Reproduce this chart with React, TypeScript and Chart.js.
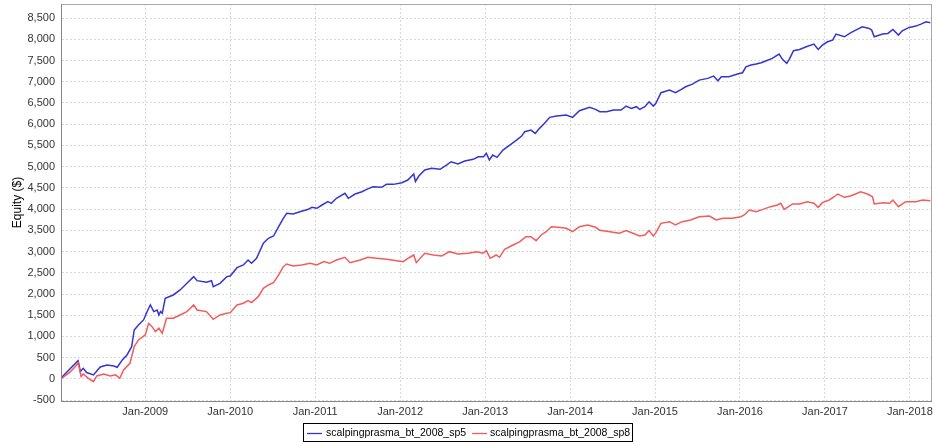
import { useEffect, useRef } from "react";
import { Chart, registerables } from "chart.js";

Chart.register(...registerables);

const seriesNames = ["scalpingprasma_bt_2008_sp5", "scalpingprasma_bt_2008_sp8"];

const sp5Years = [2008.02, 2008.10, 2008.16, 2008.197, 2008.21, 2008.236, 2008.27, 2008.31, 2008.39, 2008.47, 2008.55, 2008.63, 2008.67, 2008.73, 2008.785, 2008.84, 2008.87, 2008.92, 2008.98, 2009.03, 2009.06, 2009.10, 2009.14, 2009.16, 2009.18, 2009.20, 2009.235, 2009.33, 2009.41, 2009.49, 2009.57, 2009.61, 2009.72, 2009.78, 2009.80, 2009.88, 2009.96, 2010.0, 2010.08, 2010.155, 2010.21, 2010.25, 2010.31, 2010.39, 2010.45, 2010.51, 2010.57, 2010.625, 2010.665, 2010.74, 2010.82, 2010.92, 2010.96, 2011.02, 2011.08, 2011.15, 2011.19, 2011.25, 2011.35, 2011.39, 2011.47, 2011.55, 2011.605, 2011.68, 2011.78, 2011.84, 2011.92, 2012.02, 2012.09, 2012.16, 2012.18, 2012.22, 2012.29, 2012.37, 2012.47, 2012.545, 2012.60, 2012.68, 2012.76, 2012.86, 2012.92, 2012.98, 2013.015, 2013.05, 2013.09, 2013.14, 2013.21, 2013.29, 2013.37, 2013.43, 2013.465, 2013.54, 2013.59, 2013.64, 2013.70, 2013.76, 2013.84, 2013.955, 2014.03, 2014.11, 2014.23, 2014.30, 2014.35, 2014.43, 2014.51, 2014.60, 2014.66, 2014.72, 2014.78, 2014.82, 2014.88, 2014.93, 2014.98, 2015.01, 2015.07, 2015.17, 2015.24, 2015.31, 2015.36, 2015.44, 2015.52, 2015.62, 2015.69, 2015.74, 2015.78, 2015.87, 2015.97, 2016.03, 2016.07, 2016.13, 2016.19, 2016.25, 2016.31, 2016.38, 2016.46, 2016.50, 2016.55, 2016.58, 2016.63, 2016.70, 2016.78, 2016.87, 2016.92, 2016.97, 2017.03, 2017.09, 2017.13, 2017.23, 2017.30, 2017.38, 2017.44, 2017.52, 2017.55, 2017.58, 2017.68, 2017.74, 2017.80, 2017.865, 2017.91, 2017.99, 2018.07, 2018.13, 2018.19, 2018.24];
const sp5Equity = [40, 212, 330, 407, 430, 172, 250, 150, 95, 282, 330, 306, 275, 447, 565, 760, 1153, 1271, 1389, 1624, 1742, 1585, 1624, 1506, 1585, 1546, 1900, 1977, 2095, 2252, 2409, 2314, 2275, 2314, 2173, 2252, 2409, 2424, 2620, 2684, 2801, 2723, 2841, 3194, 3312, 3366, 3585, 3783, 3900, 3884, 3939, 3994, 4041, 4018, 4096, 4174, 4136, 4254, 4371, 4254, 4355, 4409, 4465, 4527, 4512, 4582, 4582, 4621, 4684, 4826, 4650, 4779, 4920, 4960, 4936, 5037, 5115, 5061, 5132, 5171, 5233, 5233, 5312, 5155, 5273, 5218, 5390, 5508, 5626, 5720, 5822, 5861, 5783, 5901, 6019, 6160, 6191, 6215, 6160, 6316, 6395, 6348, 6293, 6293, 6332, 6332, 6426, 6372, 6411, 6348, 6411, 6528, 6426, 6490, 6740, 6803, 6740, 6819, 6881, 6944, 7038, 7078, 7132, 7022, 7116, 7116, 7180, 7211, 7352, 7391, 7415, 7446, 7493, 7549, 7650, 7526, 7432, 7526, 7729, 7760, 7823, 7886, 7760, 7862, 7940, 7980, 8121, 8058, 8152, 8232, 8293, 8254, 8215, 8058, 8121, 8137, 8232, 8098, 8199, 8278, 8310, 8357, 8411, 8387];

const sp8Years = [2008.02, 2008.12, 2008.18, 2008.21, 2008.245, 2008.27, 2008.33, 2008.39, 2008.43, 2008.51, 2008.59, 2008.65, 2008.70, 2008.745, 2008.82, 2008.87, 2008.92, 2009.0, 2009.04, 2009.08, 2009.12, 2009.16, 2009.20, 2009.25, 2009.33, 2009.41, 2009.49, 2009.57, 2009.61, 2009.72, 2009.80, 2009.88, 2009.96, 2010.0, 2010.08, 2010.155, 2010.21, 2010.25, 2010.33, 2010.39, 2010.45, 2010.51, 2010.57, 2010.625, 2010.665, 2010.74, 2010.84, 2010.94, 2011.02, 2011.10, 2011.17, 2011.25, 2011.35, 2011.41, 2011.53, 2011.62, 2011.72, 2011.84, 2011.96, 2012.035, 2012.11, 2012.16, 2012.19, 2012.29, 2012.39, 2012.49, 2012.58, 2012.68, 2012.80, 2012.90, 2012.975, 2013.015, 2013.06, 2013.13, 2013.17, 2013.23, 2013.33, 2013.41, 2013.48, 2013.54, 2013.60, 2013.66, 2013.72, 2013.78, 2013.86, 2013.955, 2014.03, 2014.11, 2014.21, 2014.30, 2014.35, 2014.47, 2014.58, 2014.66, 2014.74, 2014.82, 2014.88, 2014.93, 2014.98, 2015.01, 2015.07, 2015.17, 2015.24, 2015.32, 2015.42, 2015.52, 2015.64, 2015.72, 2015.80, 2015.91, 2016.01, 2016.05, 2016.11, 2016.19, 2016.27, 2016.36, 2016.44, 2016.48, 2016.52, 2016.62, 2016.70, 2016.79, 2016.87, 2016.92, 2016.97, 2017.05, 2017.11, 2017.15, 2017.23, 2017.30, 2017.36, 2017.42, 2017.50, 2017.56, 2017.58, 2017.68, 2017.76, 2017.80, 2017.865, 2017.95, 2018.07, 2018.15, 2018.24];
const sp8Equity = [20, 172, 300, 385, 55, 118, 15, -63, 70, 118, 70, 95, 15, 212, 369, 760, 918, 1036, 1310, 1231, 1114, 1193, 1075, 1428, 1428, 1506, 1585, 1742, 1624, 1585, 1405, 1506, 1546, 1561, 1742, 1782, 1843, 1796, 1937, 2135, 2213, 2267, 2448, 2644, 2707, 2660, 2684, 2723, 2684, 2762, 2723, 2801, 2864, 2738, 2801, 2864, 2841, 2817, 2785, 2762, 2860, 2919, 2738, 2959, 2919, 2895, 2997, 2943, 2959, 2997, 2959, 3021, 2841, 2919, 2864, 3053, 3154, 3232, 3350, 3350, 3256, 3390, 3468, 3585, 3571, 3547, 3468, 3585, 3625, 3571, 3500, 3468, 3430, 3492, 3430, 3366, 3390, 3492, 3366, 3444, 3665, 3703, 3625, 3703, 3743, 3821, 3837, 3743, 3783, 3783, 3821, 3861, 3978, 3939, 3994, 4057, 4096, 4136, 3994, 4120, 4120, 4174, 4136, 4041, 4151, 4214, 4291, 4355, 4277, 4308, 4355, 4409, 4355, 4291, 4120, 4151, 4136, 4214, 4057, 4174, 4174, 4214, 4198];

const yearTicks = [2009, 2010, 2011, 2012, 2013, 2014, 2015, 2016, 2017, 2018];
const equityTicks = [-500, 0, 500, 1000, 1500, 2000, 2500, 3000, 3500, 4000, 4500, 5000, 5500, 6000, 6500, 7000, 7500, 8000, 8500];

const COLORS = ["#3535d2", "#f25c5c"];
const FONT = "'Liberation Sans', Arial, sans-serif";

const framePlugin = {
  id: "frame",
  beforeDatasetsDraw(chart: any) {
    const { ctx, chartArea: a } = chart;
    ctx.save();
    ctx.strokeStyle = "#a8a8a8";
    ctx.lineWidth = 1;
    ctx.strokeRect(Math.round(a.left) - 0.5, Math.round(a.top) + 0.5, Math.round(a.right - a.left), Math.round(a.bottom - a.top));
    ctx.strokeStyle = "#888888";
    ctx.beginPath();
    ctx.moveTo(Math.round(a.left) - 0.5, a.top);
    ctx.lineTo(Math.round(a.left) - 0.5, Math.round(a.bottom) + 0.5);
    ctx.lineTo(a.right, Math.round(a.bottom) + 0.5);
    ctx.stroke();
    ctx.restore();
  },
  afterDraw(chart: any) {
    const { ctx } = chart;
    ctx.save();
    ctx.font = `10.5px ${FONT}`;
    const w0 = ctx.measureText(seriesNames[0]).width;
    const w1 = ctx.measureText(seriesNames[1]).width;
    const total = 4 + 15 + 4 + w0 + 6 + 15 + 3 + w1 + 2;
    const left = Math.round(467.5 - total / 2);
    const top = 423;
    const h = 18;
    ctx.fillStyle = "#ffffff";
    ctx.fillRect(left, top, total, h);
    ctx.strokeStyle = "#000000";
    ctx.lineWidth = 1;
    ctx.strokeRect(left + 0.5, top + 0.5, Math.round(total), h);
    const cy = top + 10.5;
    let x = left + 4;
    ctx.lineWidth = 1.3;
    ctx.strokeStyle = COLORS[0];
    ctx.beginPath(); ctx.moveTo(x, cy); ctx.lineTo(x + 15, cy); ctx.stroke();
    x += 19;
    ctx.fillStyle = "#000000";
    ctx.textBaseline = "middle";
    ctx.textAlign = "left";
    ctx.fillText(seriesNames[0], x, cy);
    x += w0 + 6;
    ctx.strokeStyle = COLORS[1];
    ctx.beginPath(); ctx.moveTo(x, cy); ctx.lineTo(x + 15, cy); ctx.stroke();
    x += 18;
    ctx.fillText(seriesNames[1], x, cy);
    ctx.restore();
  },
};

const bgPlugin = {
  id: "bg",
  beforeDraw(chart: any) {
    const { ctx, width, height } = chart;
    ctx.save();
    ctx.fillStyle = "#ffffff";
    ctx.fillRect(0, 0, width, height);
    ctx.restore();
  },
};

export default function App() {
  const ref = useRef<HTMLCanvasElement | null>(null);

  useEffect(() => {
    document.body.style.margin = "0";
    const canvas = ref.current;
    if (!canvas) return;
    const chart = new Chart(canvas, {
      type: "line",
      data: {
        datasets: [
          {
            label: seriesNames[0],
            data: sp5Years.map((x, i) => ({ x, y: sp5Equity[i] })),
            borderColor: COLORS[0],
            backgroundColor: COLORS[0],
            borderWidth: 1.5,
            pointRadius: 0,
            tension: 0,
            order: 1,
          },
          {
            label: seriesNames[1],
            data: sp8Years.map((x, i) => ({ x, y: sp8Equity[i] })),
            borderColor: COLORS[1],
            backgroundColor: COLORS[1],
            borderWidth: 1.5,
            pointRadius: 0,
            tension: 0,
            order: 0,
          },
        ],
      },
      options: {
        responsive: false,
        animation: false,
        devicePixelRatio: 1,
        layout: { padding: { top: 4, right: 7, bottom: 23, left: 0 } },
        plugins: { legend: { display: false }, tooltip: { enabled: false } },
        scales: {
          x: {
            type: "linear",
            min: 2008.02,
            max: 2018.26,
            afterBuildTicks: (scale: any) => {
              scale.ticks = yearTicks.map((v) => ({ value: v }));
            },
            afterFit: (scale: any) => {
              scale.height = 20;
              scale.paddingLeft = 0;
              scale.paddingRight = 0;
            },
            grid: { color: "#d9d9d9", drawTicks: false },
            border: { display: false, dash: [2, 2] },
            ticks: {
              padding: 4,
              color: "#333333",
              font: { family: FONT, size: 11 },
              maxRotation: 0,
              autoSkip: false,
              callback: (v: any) => "Jan-" + Math.round(Number(v)),
            },
          },
          y: {
            type: "linear",
            min: -520,
            max: 8830,
            afterBuildTicks: (scale: any) => {
              scale.ticks = equityTicks.map((v) => ({ value: v }));
            },
            afterFit: (scale: any) => {
              scale.width = 62;
              scale.paddingTop = 0;
              scale.paddingBottom = 0;
            },
            grid: { color: "#d9d9d9", drawTicks: false },
            border: { display: false, dash: [2, 2] },
            title: {
              display: true,
              text: "Equity ($)",
              color: "#000000",
              font: { family: FONT, size: 12 },
              padding: { top: 10, bottom: 0 },
            },
            ticks: {
              padding: 7,
              color: "#333333",
              font: { family: FONT, size: 11 },
              autoSkip: false,
              callback: (v: any) => Number(v).toLocaleString("en-US"),
            },
          },
        },
      },
      plugins: [bgPlugin, framePlugin],
    });
    return () => chart.destroy();
  }, []);

  return (
    <div style={{ width: 939, height: 444 }}>
      <canvas ref={ref} width={939} height={444} style={{ display: "block" }} />
    </div>
  );
}
